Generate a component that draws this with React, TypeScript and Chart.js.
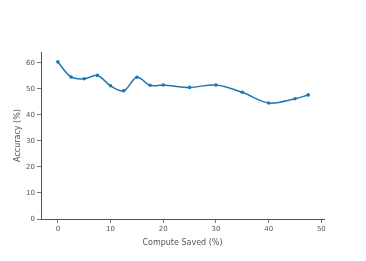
import React, { useEffect, useRef } from "react";
import { Chart, registerables } from "chart.js";
Chart.register(...registerables);

const computeSaved = [0, 2.5, 5, 7.5, 10, 12.5, 15, 17.5, 20, 25, 30, 35, 40, 45, 47.5];
const accuracy = [60.4, 54.6, 53.9, 55.2, 51.2, 49.3, 54.5, 51.4, 51.5, 50.6, 51.5, 48.7, 44.6, 46.2, 47.7];
const xTicks = [0, 10, 20, 30, 40, 50];
const yTicks = [0, 10, 20, 30, 40, 50, 60];
const xTitle = "Compute Saved (%)";
const yTitle = "Accuracy (%)";

export default function App() {
  const ref = useRef<HTMLCanvasElement>(null);
  useEffect(() => {
    const font = { family: "'DejaVu Sans', Verdana, sans-serif", size: 7 };
    const chart = new Chart(ref.current!, {
      type: "line",
      data: {
        datasets: [
          {
            data: computeSaved.map((x, i) => ({ x, y: accuracy[i] })),
            borderColor: "#1f77b4",
            backgroundColor: "#1f77b4",
            borderWidth: 1.5,
            pointRadius: 1.8,
            pointBorderWidth: 0,
            tension: 0.35,
            cubicInterpolationMode: "default",
          },
        ],
      },
      options: {
        animation: false,
        responsive: false,
        maintainAspectRatio: false,
        layout: { padding: { left: 13, top: 52, right: 42, bottom: 13 } },
        plugins: { legend: { display: false }, tooltip: { enabled: false } },
        scales: {
          x: {
            type: "linear",
            min: -3.2,
            max: 50.5,
            afterBuildTicks: (s: any) => {
              s.ticks = xTicks.map((v) => ({ value: v }));
            },
            afterFit: (s: any) => {
              s.height = 29;
            },
            grid: { drawOnChartArea: false, drawTicks: true, tickLength: 4, color: "#777" },
            border: { display: true, color: "#555", width: 1 },
            ticks: { color: "#555", font, padding: 2, maxRotation: 0 },
            title: { display: true, text: xTitle, color: "#555", font: { ...font, size: 8 }, padding: { top: 4, bottom: 0 } },
          },
          y: {
            type: "linear",
            min: 0,
            max: 64.2,
            afterBuildTicks: (s: any) => {
              s.ticks = yTicks.map((v) => ({ value: v }));
            },
            afterFit: (s: any) => {
              s.width = 28;
            },
            grid: { drawOnChartArea: false, drawTicks: true, tickLength: 4, color: "#777" },
            border: { display: true, color: "#555", width: 1 },
            ticks: { color: "#555", font, padding: 2 },
            title: { display: true, text: yTitle, color: "#555", font: { ...font, size: 8 }, padding: { top: 0, bottom: 4 } },
          },
        },
      },
    } as any);
    return () => chart.destroy();
  }, []);
  return (
    <div style={{ position: "fixed", left: 0, top: 0, width: 366, height: 261, background: "#fff" }}>
      <canvas ref={ref} width={366} height={261} style={{ width: 366, height: 261 }} />
    </div>
  );
}
